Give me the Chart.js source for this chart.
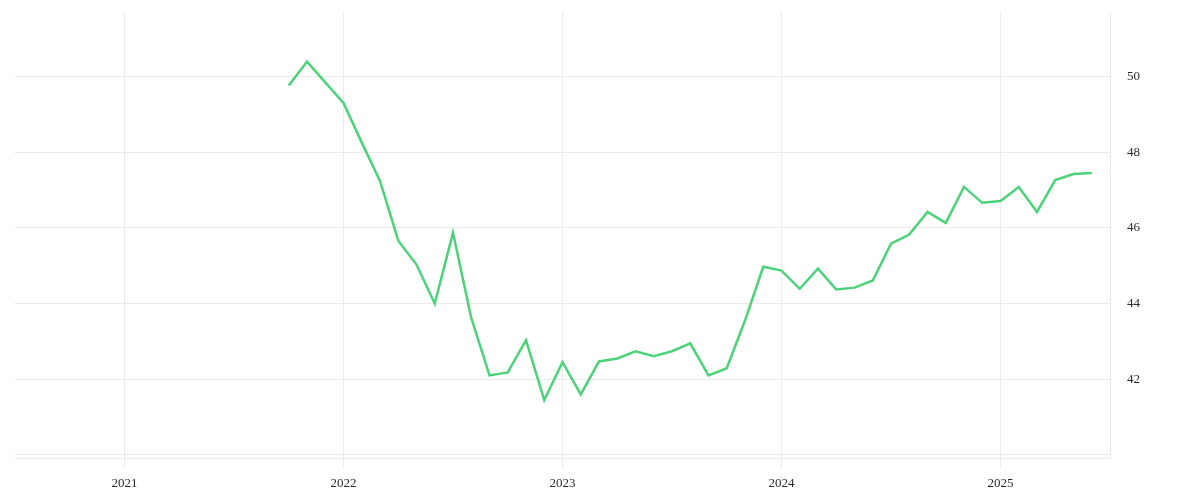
<!DOCTYPE html>
<html>
<head>
<meta charset="utf-8">
<script src="https://cdn.jsdelivr.net/npm/chart.js@4"></script>
<style>
  html, body { margin: 0; padding: 0; background: #ffffff; }
  #wrap { width: 1200px; height: 500px; }
</style>
</head>
<body>
<div id="wrap"><canvas id="chart_x" width="1200" height="500"></canvas></div>
<script>
// monthly readings, Oct 2021 .. Jun 2025
const months = [
    '2021-10', '2021-11', '2021-12',
    '2022-01', '2022-02', '2022-03', '2022-04', '2022-05', '2022-06',
    '2022-07', '2022-08', '2022-09', '2022-10', '2022-11', '2022-12',
    '2023-01', '2023-02', '2023-03', '2023-04', '2023-05', '2023-06',
    '2023-07', '2023-08', '2023-09', '2023-10', '2023-11', '2023-12',
    '2024-01', '2024-02', '2024-03', '2024-04', '2024-05', '2024-06',
    '2024-07', '2024-08', '2024-09', '2024-10', '2024-11', '2024-12',
    '2025-01', '2025-02', '2025-03', '2025-04', '2025-05', '2025-06'
];
const values = [
    49.76, 50.39, 49.84,
    49.30, 48.25, 47.24, 45.66, 45.03, 44.00,
    45.87, 43.62, 42.10, 42.18, 43.03, 41.45,
    42.45, 41.60, 42.47, 42.55, 42.74, 42.61,
    42.74, 42.95, 42.10, 42.29, 43.55, 44.97,
    44.87, 44.39, 44.92, 44.37, 44.42, 44.61,
    45.58, 45.82, 46.42, 46.13, 47.08, 46.66,
    46.71, 47.08, 46.42, 47.26, 47.42, 47.45
];
const yearTicks = [2021, 2022, 2023, 2024, 2025];
const valueTicks = [40, 42, 44, 46, 48, 50];

const lineColor = 'rgb(76, 211, 122)';
const gridColor = '#ebebeb';
const tickColor = '#2a2a2a';

function toPoints() {
    let pts = [];
    for (let i = 0; i < months.length; i++) {
        let parts = months[i].split('-');
        let yr = parseInt(parts[0]);
        let mo = parseInt(parts[1]);
        pts.push({ x: yr + (mo - 1) / 12, y: values[i] });
    }
    return pts;
}

let optionx = {
    responsive: false,
    animation: false,
    layout: { padding: { left: 15, top: 12, right: 0, bottom: 0 } },
    plugins: {
        legend: { display: false },
        tooltip: { enabled: false },
    },
    elements: { point: { radius: 0 } },
    scales: {
        x: {
            type: 'linear',
            min: 2020.5,
            max: 2025.5,
            afterBuildTicks: function (axis) {
                axis.ticks = yearTicks.map(function (v) { return { value: v }; });
            },
            afterFit: function (axis) {
                axis.height = 42;
                axis.paddingLeft = 0;
                axis.paddingRight = 0;
            },
            border: { display: true, color: gridColor },
            grid: { color: gridColor, tickLength: 10, tickColor: gridColor },
            ticks: {
                color: tickColor,
                padding: 8,
                maxRotation: 0,
                font: { family: '"Liberation Serif", serif', size: 13 },
                callback: function (v) { return String(v); },
            },
        },
        y: {
            position: 'right',
            min: 39.92,
            max: 51.7,
            afterBuildTicks: function (axis) {
                axis.ticks = valueTicks.map(function (v) { return { value: v }; });
            },
            afterFit: function (axis) {
                axis.width = 90;
                axis.paddingTop = 0;
                axis.paddingBottom = 0;
            },
            border: { display: true, color: gridColor },
            grid: { color: gridColor, drawTicks: false },
            ticks: {
                color: tickColor,
                padding: 17,
                font: { family: '"Liberation Serif", serif', size: 13 },
                callback: function (v) { return v === 40 ? '' : String(v); },
            },
        },
    },
};

var ctx = document.getElementById('chart_x').getContext('2d');
var myChart = new Chart(ctx, {
    type: 'line',
    data: {
        datasets: [{
            data: toPoints(),
            borderColor: lineColor,
            borderWidth: 2.5,
            fill: false,
            tension: 0,
            pointRadius: 0,
        }],
    },
    options: optionx,
});
</script>
</body>
</html>
